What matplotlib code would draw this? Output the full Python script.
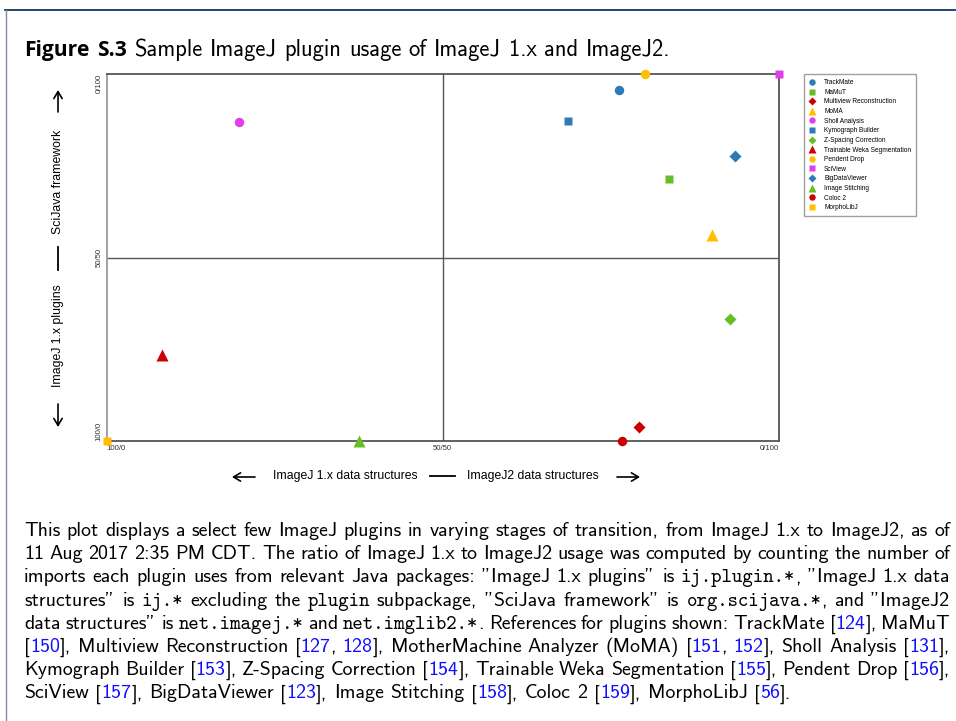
import re
import matplotlib
matplotlib.use('Agg')
import matplotlib.pyplot as plt
from matplotlib.lines import Line2D
from matplotlib.patches import FancyArrowPatch
from matplotlib.font_manager import FontProperties

plugins = ['TrackMate', 'MaMuT', 'Multiview Reconstruction', 'MoMA', 'Sholl Analysis',
           'Kymograph Builder', 'Z-Spacing Correction', 'Trainable Weka Segmentation',
           'Pendent Drop', 'SciView', 'BigDataViewer', 'Image Stitching', 'Coloc 2', 'MorphoLibJ']
# share of ImageJ2 data structures (x) and SciJava framework (y), in percent
ij2_data = [76.2, 83.7, 79.2, 90.1, 19.7, 68.6, 92.7, 8.3, 80.0, 100, 93.5, 37.5, 76.7, 0]
scijava = [95.6, 71.3, 3.7, 56.1, 86.9, 87.3, 33.2, 23.4, 100, 100, 77.7, 0, 0, 0]
markers = ['o', 's', 'D', '^', 'o', 's', 'D', '^', 'o', 's', 'D', '^', 'o', 's']
colors = ['#2c7bb6', '#66bd26', '#cc0000', '#ffbf00', '#e040e8', '#2c7bb6', '#66bd26',
          '#cc0000', '#ffbf00', '#e040e8', '#2c7bb6', '#66bd26', '#cc0000', '#ffbf00']
tick_pos = [0, 50, 100]
xtick_labels = ['100/0', '50/50', '0/100']
ytick_labels = ['100/0', '50/50', '0/100']

title_bold = 'Figure S.3'
title_rest = 'Sample ImageJ plugin usage of ImageJ 1.x and ImageJ2.'
# @..@ = typewriter, #..# = blue reference number
caption = [
    'This plot displays a select few ImageJ plugins in varying stages of transition, from ImageJ 1.x to ImageJ2, as of',
    '11 Aug 2017 2:35 PM CDT. The ratio of ImageJ 1.x to ImageJ2 usage was computed by counting the number of',
    'imports each plugin uses from relevant Java packages: "ImageJ 1.x plugins" is @ij.plugin.*@, "ImageJ 1.x data',
    'structures" is @ij.*@ excluding the @plugin@ subpackage, "SciJava framework" is @org.scijava.*@, and "ImageJ2',
    'data structures" is @net.imagej.*@ and @net.imglib2.*@. References for plugins shown: TrackMate [#124#], MaMuT',
    '[#150#], Multiview Reconstruction [#127#, #128#], MotherMachine Analyzer (MoMA) [#151#, #152#], Sholl Analysis [#131#],',
    'Kymograph Builder [#153#], Z-Spacing Correction [#154#], Trainable Weka Segmentation [#155#], Pendent Drop [#156#],',
    'SciView [#157#], BigDataViewer [#123#], Image Stitching [#158#], Coloc 2 [#159#], MorphoLibJ [#56#].',
]

W, H = 956, 721
def fx(x):
    return x / W
def fy(y):
    return 1 - y / H

fig = plt.figure(figsize=(W / 100, H / 100), dpi=100)
fig.patch.set_facecolor('white')

# page frame
fig.add_artist(Line2D([fx(5), fx(956)], [fy(9.5), fy(9.5)], color='#15355f', lw=1.3))
fig.add_artist(Line2D([fx(6), fx(6)], [fy(9.5), fy(721)], color='#7d8aa5', lw=1.0))

ax = fig.add_axes([fx(106.5), fy(441), 672.5 / W, 367 / H])
ax.set_xlim(0, 100)
ax.set_ylim(0, 100)
ax.axvline(50, color='#555555', lw=1.0)
ax.axhline(50, color='#555555', lw=1.0)

msize = {'o': 6.8, 's': 6.3, 'D': 5.8, '^': 9.0}
for name, x, y, m, c in zip(plugins, ij2_data, scijava, markers, colors):
    ax.plot([x], [y], ls='none', marker=m, ms=msize[m], color=c, mec='none',
            clip_on=False, zorder=5, label=name)

for side in ['top', 'right', 'bottom']:
    ax.spines[side].set_color('#555555')
    ax.spines[side].set_linewidth(1.3)
ax.spines['left'].set_color('#9a9a9a')
ax.spines['left'].set_linewidth(1.3)

ax.set_xticks(tick_pos, labels=xtick_labels)
ax.set_yticks(tick_pos, labels=ytick_labels, rotation=90)
ax.tick_params(length=0, labelsize=5.6, labelcolor='#333333', pad=3)
for lab in ax.get_yticklabels():
    lab.set_family('Liberation Sans')
    lab.set_va('center')
for lab in ax.get_xticklabels():
    lab.set_family('Liberation Sans')
xl = ax.get_xticklabels()
xl[0].set_ha('left')
xl[2].set_ha('right')
yl = ax.get_yticklabels()
yl[0].set_va('bottom')
yl[2].set_va('top')

leg = ax.legend(loc='upper left', bbox_to_anchor=(1.037, 1.0), borderaxespad=0,
                markerscale=0.68, handlelength=1.0, handletextpad=1.3,
                labelspacing=0.4, borderpad=0.8, fancybox=False, frameon=True,
                prop={'family': 'Liberation Sans', 'size': 4.7})
leg.get_frame().set_edgecolor('#888888')
leg.get_frame().set_linewidth(1.0)

# axis labels with arrows
lab_font = dict(family='Liberation Sans', fontsize=8.8, color='black')
fig.text(fx(345), fy(476), 'ImageJ 1.x data structures', ha='center', va='center', **lab_font)
fig.text(fx(533), fy(476), 'ImageJ2 data structures', ha='center', va='center', **lab_font)
fig.add_artist(Line2D([fx(430), fx(455)], [fy(476), fy(476)], color='black', lw=1.3))
arrow = dict(arrowstyle='->,head_length=0.5,head_width=0.3', color='black', lw=1.2,
             mutation_scale=10, shrinkA=0, shrinkB=0, transform=fig.transFigure)
fig.add_artist(FancyArrowPatch((fx(255), fy(477)), (fx(232), fy(477)), **arrow))
fig.add_artist(FancyArrowPatch((fx(617), fy(477)), (fx(640), fy(477)), **arrow))

fig.text(fx(58), fy(182), 'SciJava framework', ha='center', va='center', rotation=90, **lab_font)
fig.text(fx(58), fy(336), 'ImageJ 1.x plugins', ha='center', va='center', rotation=90, **lab_font)
fig.add_artist(Line2D([fx(58), fx(58)], [fy(247), fy(270)], color='black', lw=1.3))
fig.add_artist(FancyArrowPatch((fx(58), fy(112)), (fx(58), fy(90)), **arrow))
fig.add_artist(FancyArrowPatch((fx(58), fy(404)), (fx(58), fy(427)), **arrow))

# title and caption text, laid out word by word
renderer = fig.canvas.get_renderer()


def fonts(size):
    return (FontProperties(family='cmss10', size=size),
            FontProperties(family='cmtt10', size=size))


def word_parts(word, size):
    f_ss, f_tt = fonts(size)
    parts = []
    for chunk in re.split(r'(@[^@]*@|#[^#]*#)', word):
        if not chunk:
            continue
        if chunk.startswith('@'):
            parts.append((chunk[1:-1], f_tt, 'black'))
        elif chunk.startswith('#'):
            parts.append((chunk[1:-1], f_ss, '#1010ff'))
        else:
            parts.append((chunk, f_ss, 'black'))
    return parts


def measure(s, fp):
    t = fig.text(0, 0, s, fontproperties=fp)
    w = t.get_window_extent(renderer).width
    t.remove()
    return w


def natural_width(line, size):
    words = [word_parts(w, size) for w in line.split(' ')]
    total = sum(measure(s, fp) for wd in words for s, fp, c in wd)
    return total + (len(words) - 1) * 0.333 * size * 100 / 72


def lay_line(words, x0, x1, ybase, justify, space):
    items = []
    for word in words:
        ps = []
        total = 0
        for s, fp, c in word:
            t = fig.text(0, 0, s, fontproperties=fp, color=c, va='baseline', ha='left')
            w = t.get_window_extent(renderer).width
            ps.append((t, w))
            total += w
        items.append((ps, total))
    natural = sum(w for _, w in items)
    if justify and len(items) > 1:
        gap = (x1 - x0 - natural) / (len(items) - 1)
    else:
        gap = space
    x = x0
    for ps, total in items:
        xx = x
        for t, w in ps:
            t.set_position((fx(xx), fy(ybase)))
            xx += w
        x += total + gap


# size the caption so its last (ragged) line is as long as in the reference
last_w = natural_width(caption[-1], 10)
fs_cap = 10 * (787 - 24) / last_w
space_cap = 0.333 * fs_cap * 100 / 72
for i, line in enumerate(caption):
    words = [word_parts(w, fs_cap) for w in line.split(' ')]
    lay_line(words, 24, 950, 536 + i * 23.2, i < len(caption) - 1, space_cap)

# title sized to its width in the reference
f_bold10 = FontProperties(family='Open Sans', weight='bold', size=9.3)
f_t10 = FontProperties(family='cmss10', size=10)
tw = sum(measure(w, f_bold10) for w in title_bold.split(' '))
tw += sum(measure(w, f_t10) for w in title_rest.split(' '))
n_gaps = len(title_bold.split(' ')) + len(title_rest.split(' ')) - 1
fs_title = 10 * 647 / (tw + n_gaps * 0.333 * 10 * 100 / 72)
f_title = FontProperties(family='cmss10', size=fs_title)
f_bold = FontProperties(family='Open Sans', weight='bold', size=fs_title * 0.93)
title_words = [[(w, f_bold, 'black')] for w in title_bold.split(' ')]
title_words += [[(w, f_title, 'black')] for w in title_rest.split(' ')]
lay_line(title_words, 24, 671, 56, False, 0.333 * fs_title * 100 / 72)

fig.savefig('out.png', dpi=100, facecolor='white')
